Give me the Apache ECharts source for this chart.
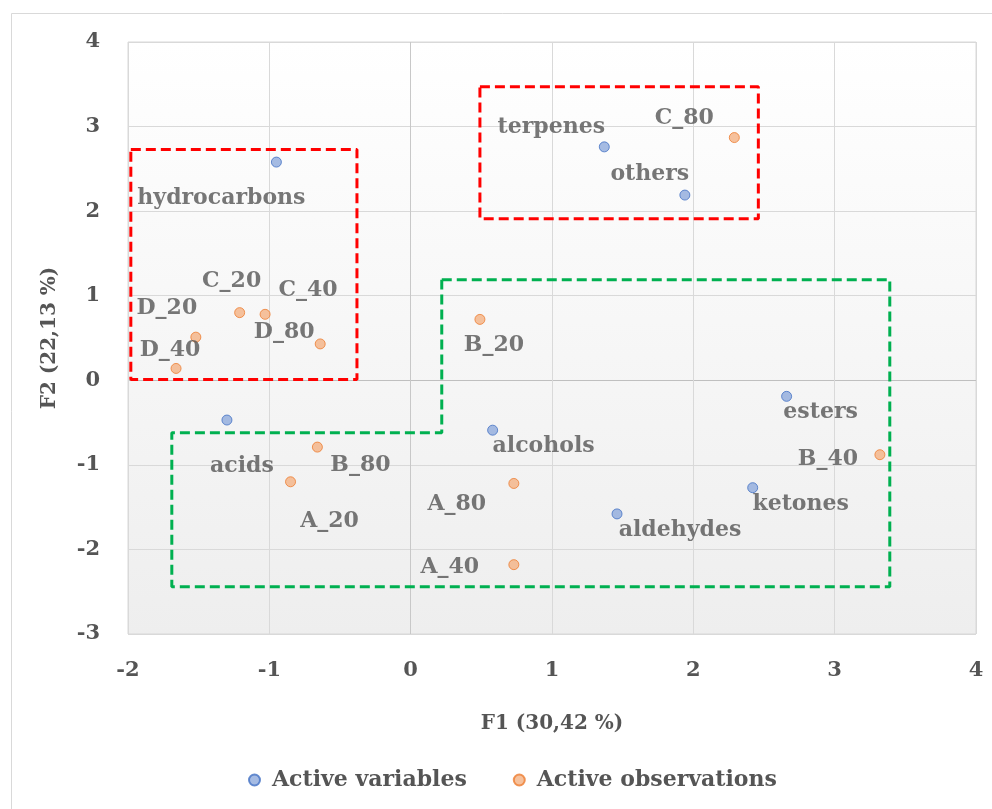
<!DOCTYPE html>
<html>
<head>
<meta charset="utf-8">
<script src="https://cdn.jsdelivr.net/npm/echarts@6/dist/echarts.min.js"></script>
<style>html,body{margin:0;padding:0;background:#fff;}#c{width:992px;height:809px;}</style>
</head>
<body>
<div id="c"></div>
<script>
// ---- data ----
const variableNames = ['hydrocarbons','terpenes','others','acids','alcohols','aldehydes','ketones','esters'];
const variableF1 = [-0.95, 1.37, 1.94, -1.30, 0.58, 1.46, 2.42, 2.66];
const variableF2 = [2.58, 2.76, 2.19, -0.47, -0.59, -1.58, -1.27, -0.19];

const observationNames = ['C_80','B_20','C_20','C_40','D_20','D_40','D_80','B_80','A_20','A_80','A_40','B_40'];
const observationF1 = [2.29, 0.49, -1.21, -1.03, -1.52, -1.66, -0.64, -0.66, -0.85, 0.73, 0.73, 3.32];
const observationF2 = [2.87, 0.72, 0.80, 0.78, 0.51, 0.14, 0.43, -0.79, -1.20, -1.22, -2.18, -0.88];

const xTicks = [-2, -1, 0, 1, 2, 3, 4];
const yTicks = [-3, -2, -1, 0, 1, 2, 3, 4];

// group outlines (in F1/F2 units)
const redBoxLeftF1 = [-1.98, -0.38, -0.38, -1.98, -1.98];
const redBoxLeftF2 = [2.73, 2.73, 0.01, 0.01, 2.73];
const redBoxTopF1 = [0.49, 2.46, 2.46, 0.49, 0.49];
const redBoxTopF2 = [3.47, 3.47, 1.91, 1.91, 3.47];
const greenBoxF1 = [0.22, 3.39, 3.39, -1.69, -1.69, 0.22, 0.22];
const greenBoxF2 = [1.19, 1.19, -2.44, -2.44, -0.62, -0.62, 1.19];

// ---- label placement (pixels, style only) ----
const labelOffsets = {
  hydrocarbons: [-55, 36], terpenes: [-53, -20], others: [-35, -21], acids: [15, 46],
  alcohols: [51, 16], aldehydes: [63, 16], ketones: [48, 17], esters: [34, 16],
  C_80: [-50, -19], B_20: [14, 26], C_20: [-8, -31], C_40: [43, -24], D_20: [-29, -29],
  D_40: [-6, -18], D_80: [-36, -12], B_80: [43, 18], A_20: [39, 40], A_80: [-57, 21],
  A_40: [-64, 3], B_40: [-52, 5]
};

const FONT = 'DejaVu Serif';
const TXT = '#555555';

function pts(names, xs, ys) {
  return names.map((n, i) => ({
    name: n, value: [xs[i], ys[i]],
    label: { offset: labelOffsets[n] }
  }));
}
function poly(xs, ys) { return xs.map((x, i) => [x, ys[i]]); }

const labelStyle = {
  show: true, position: 'inside', formatter: p => p.name,
  fontFamily: FONT, fontWeight: 'bold', fontSize: 22, color: TXT
};

const chart = echarts.init(document.getElementById('c'), null, { renderer: 'canvas' });
chart.setOption({
  animation: false,
  backgroundColor: '#fff',
  graphic: [{
    type: 'rect', shape: { x: 11.5, y: 13.5, width: 1000, height: 1000 },
    style: { fill: 'none', stroke: '#d9d9d9', lineWidth: 1 }, silent: true, z: -10
  }],
  grid: {
    left: 128, right: 16, top: 42, bottom: 175, show: true,
    borderColor: '#d9d9d9', borderWidth: 1,
    backgroundColor: new echarts.graphic.LinearGradient(0, 0, 0, 1, [
      { offset: 0, color: '#ffffff' }, { offset: 1, color: '#eeeeee' }
    ])
  },
  legend: {
    bottom: 13, left: 243, itemGap: 46, itemWidth: 11, itemHeight: 11,
    data: [{ name: 'Active variables', icon: 'circle' }, { name: 'Active observations', icon: 'circle' }],
    textStyle: { fontFamily: FONT, fontWeight: 'bold', fontSize: 22, color: TXT, padding: [0, 0, 0, 7] }
  },
  xAxis: {
    type: 'value', min: xTicks[0], max: xTicks[xTicks.length - 1], interval: 1,
    name: 'F1 (30,42 %)', nameLocation: 'middle', nameGap: 80,
    nameTextStyle: { fontFamily: FONT, fontWeight: 'bold', fontSize: 20, color: TXT },
    axisLine: { show: false }, axisTick: { show: false },
    axisLabel: { margin: 26, fontFamily: FONT, fontWeight: 'bold', fontSize: 21, color: TXT },
    splitLine: { show: true, lineStyle: { color: ['#d9d9d9', '#d9d9d9', '#c8c8c8', '#d9d9d9', '#d9d9d9', '#d9d9d9', '#d9d9d9'] } }
  },
  yAxis: {
    type: 'value', min: yTicks[0], max: yTicks[yTicks.length - 1], interval: 1,
    name: 'F2 (22,13 %)', nameLocation: 'middle', nameGap: 68, nameRotate: 90,
    nameTextStyle: { fontFamily: FONT, fontWeight: 'bold', fontSize: 20, color: TXT },
    axisLine: { show: false }, axisTick: { show: false },
    axisLabel: { margin: 28, fontFamily: FONT, fontWeight: 'bold', fontSize: 21, color: TXT },
    splitLine: { show: true, lineStyle: { color: ['#d9d9d9', '#d9d9d9', '#d9d9d9', '#bfbfbf', '#d9d9d9', '#d9d9d9', '#d9d9d9', '#d9d9d9'] } }
  },
  series: [
    { type: 'line', data: poly(redBoxLeftF1, redBoxLeftF2), symbol: 'none', silent: true,
      lineStyle: { color: '#ff0000', width: 3, type: [10, 5] }, z: 1 },
    { type: 'line', data: poly(redBoxTopF1, redBoxTopF2), symbol: 'none', silent: true,
      lineStyle: { color: '#ff0000', width: 3, type: [10, 5] }, z: 1 },
    { type: 'line', data: poly(greenBoxF1, greenBoxF2), symbol: 'none', silent: true,
      lineStyle: { color: '#00b050', width: 3, type: [10, 5] }, z: 1 },
    { name: 'Active variables', type: 'scatter', symbolSize: 10,
      itemStyle: { color: '#8eaadc', borderColor: '#4472c4', borderWidth: 1 },
      label: labelStyle, data: pts(variableNames, variableF1, variableF2), z: 3 },
    { name: 'Active observations', type: 'scatter', symbolSize: 10,
      itemStyle: { color: '#f4b183', borderColor: '#ed7d31', borderWidth: 1 },
      label: labelStyle, data: pts(observationNames, observationF1, observationF2), z: 3 }
  ]
});
</script>
</body>
</html>
